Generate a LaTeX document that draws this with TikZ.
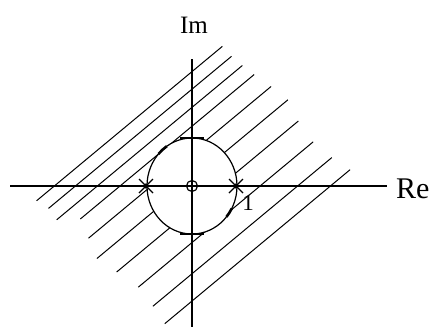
\documentclass[tikz,border=0pt]{standalone}
\usepackage{fontspec}
\setmainfont{Liberation Serif}

\begin{document}
\begin{tikzpicture}[x=1pt,y=-1pt,
  ax/.style={line width=1.5pt},
  hat/.style={line width=1pt},
  rim/.style={line width=1.2pt},
  tk/.style={line width=1.2pt},
  arr/.style={line width=2.6pt},
  lbl/.style={inner sep=0pt},
]
\useasboundingbox (0,0) rectangle (432,327);

\coordinate (O) at (192,186);

% ---- hatch lines (circle is filled white over them) ---------------------
\foreach \n/\a/\b in {-88/-129/112.6, -74.5/-124.7/113.2, -60.5/-125.7/115.8,
                      -46/-107/119, -26/-113/124.5, -5/-119.5/128.8,
                      18/-113/123.3, 43.5/-106/121.4, 67.5/-107/125.7,
                      88.5/-109/132}
  \draw[hat] ({192+0.769*\a+0.639*\n},{186-0.639*\a+0.769*\n})
          -- ({192+0.769*\b+0.639*\n},{186-0.639*\b+0.769*\n});

% ---- unit circle ----------------------------------------------------------
\draw[rim,fill=white] (O) ellipse[x radius=45,y radius=48];

% ---- axes -----------------------------------------------------------------
\coordinate (xl) at (10,186);
\coordinate (xr) at (387,186);
\coordinate (yt) at (192,59);
\coordinate (yb) at (192,327);
\draw[ax] (xl) -- (xr);
\draw[ax] (yt) -- (yb);

% ticks where the circle meets the imaginary axis
\draw[tk] (180,138) -- (204,138);
\draw[tk] (180,234) -- (204,234);

% small circle at the origin
\draw[rim] (O) circle (5.5);

% ---- marks at -1 and 1 ----------------------------------------------------
\coordinate (m1) at (146,186);
\coordinate (p1) at (236,186);
\foreach \p in {m1,p1}{
  \draw[tk] ([shift={(-7,-7)}]\p) -- ([shift={(7,7)}]\p);
  \draw[tk] ([shift={(-7,7)}]\p) -- ([shift={(7,-7)}]\p);
  \fill (\p) circle (2.6);
}

% direction strokes on the circle
\draw[arr] ([shift={(222:45 and 48)}]O) arc[start angle=222,end angle=236,x radius=45,y radius=48];
\draw[arr] ([shift={(28:45 and 48)}]O) arc[start angle=28,end angle=40,x radius=45,y radius=48];

% ---- labels ---------------------------------------------------------------
\node[lbl,anchor=base,font=\fontsize{25}{25}\selectfont] (im) at (194,33) {Im};
\node[lbl,anchor=base west,font=\fontsize{30}{30}\selectfont] (re) at (396,198) {Re};
\node[lbl,anchor=base,font=\fontsize{23}{23}\selectfont] (one) at (248,210) {1};

\end{tikzpicture}
\end{document}
